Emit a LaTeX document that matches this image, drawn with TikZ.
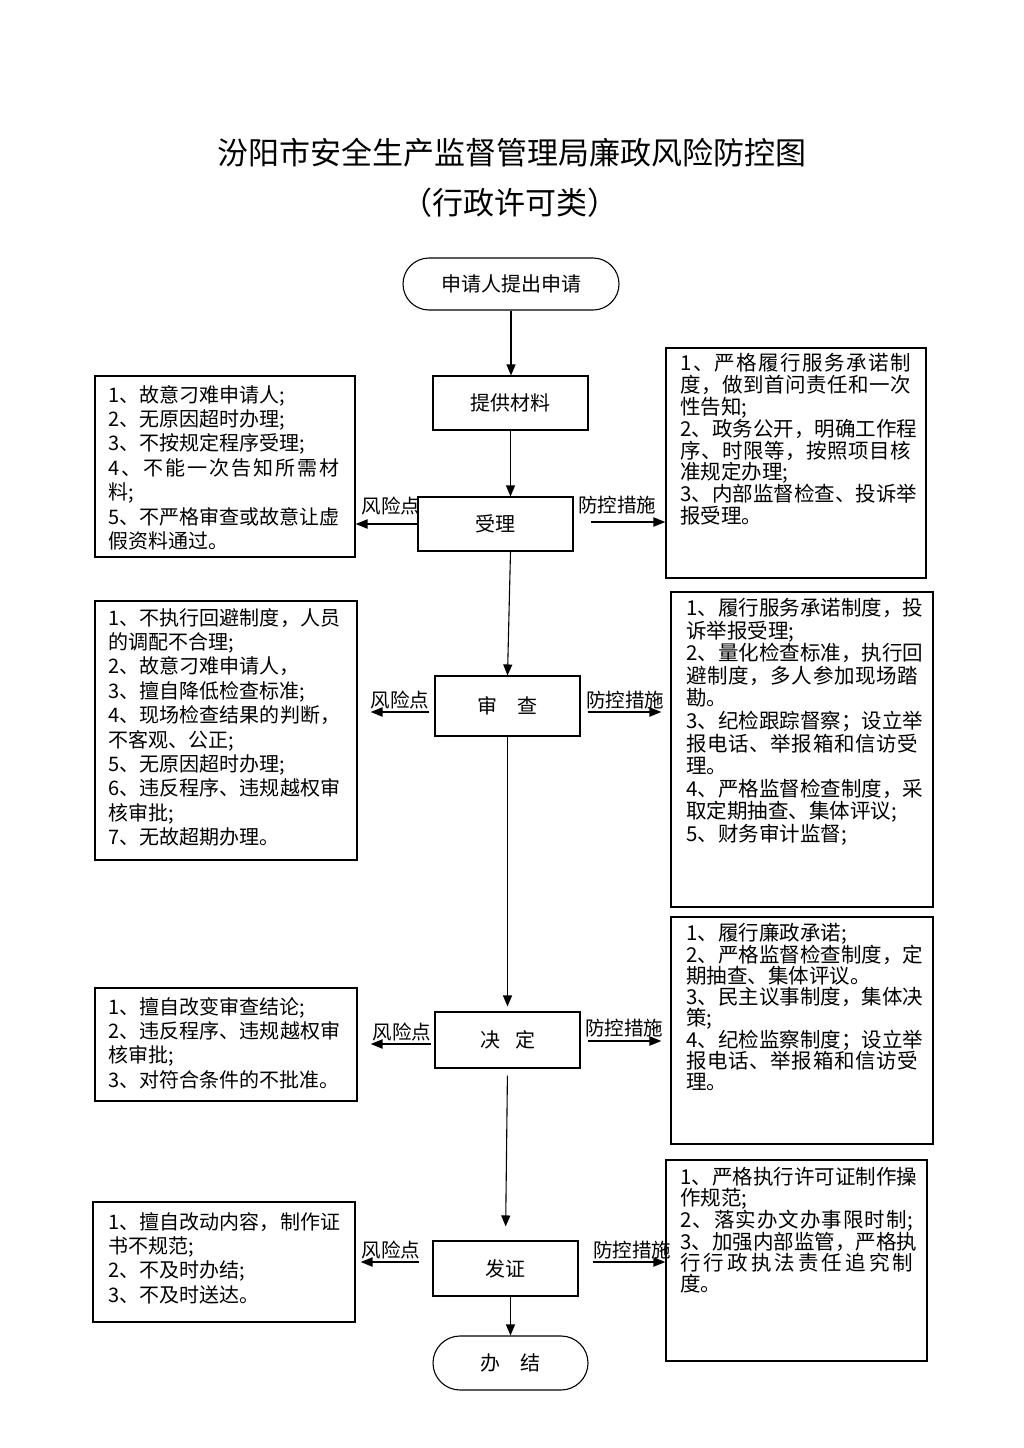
\documentclass[tikz,border=0pt]{standalone}
\usepackage{fontspec}
\setmainfont{Noto Sans CJK SC}
\usetikzlibrary{arrows.meta}
\def\spreadit#1#2{#1\ifx\relax#2\else\hfil\expandafter\spreadit\expandafter#2\fi}
\newcommand\jl[2]{\makebox[#1][s]{\spreadit#2\relax}}
\tikzset{
  box/.style={draw, line width=1.1pt, inner sep=0pt},
  stage/.style={box, font=\fontsize{20}{24}\selectfont},
  term/.style={stage, rounded corners=26pt},
  txt/.style={anchor=north west, inner sep=0pt, align=left},
  ltxt/.style={txt, font=\fontsize{20}{24.4}\selectfont},
  arr/.style={-{Triangle[length=11pt,width=9pt]}, line width=1.1pt},
  sarr/.style={-{Triangle[length=12pt,width=9pt]}, line width=2pt},
  lab/.style={font=\fontsize{19.5}{20}\selectfont, inner sep=0pt},
  ttl/.style={font=\fontsize{31}{33}\selectfont, inner sep=0pt},
}
\begin{document}
\begin{tikzpicture}[x=1pt,y=-1pt]
\useasboundingbox[fill=white] (0,0) rectangle (1024,1448);

% title
\node[ttl] (title1) at (512,153) {汾阳市安全生产监督管理局廉政风险防控图};
\node[ttl] (title2) at (510,203) {（行政许可类）};

% main flow
\node[term, minimum width=216pt, minimum height=52pt] (start) at (511,284) {申请人提出申请};
\node[stage, minimum width=155pt, minimum height=54pt] (p1) at (510.5,403) {提供材料};
\node[stage, minimum width=155pt, minimum height=54pt] (p2) at (495.5,524) {受理};
\node[stage, minimum width=145pt, minimum height=60pt] (p3) at (507.5,706) {审　查};
\node[stage, minimum width=145pt, minimum height=56pt] (p4) at (507.5,1040) {决\hspace{15pt}定};
\node[stage, minimum width=145pt, minimum height=55pt] (p5) at (505.5,1268.5) {发证};
\node[term, rounded corners=27pt, minimum width=155pt, minimum height=54pt] (end) at (510.5,1363) {办　结};

\draw[arr] (start.south) -- (start.south |- p1.north);
\draw[arr] (p1.south) -- (p1.south |- p2.north);
\draw[arr] (p1.south |- p2.south) -- (p3.north);
\draw[arr, shorten >=5pt] (p3.south) -- (p4.north);
\draw[arr, shorten <=7pt, shorten >=14pt] (p4.south) -- (p5.north);
\draw[arr] (p5.south -| end.north) -- (end.north);

% left boxes
\node[box, minimum width=260pt, minimum height=181pt] (L1) at (225,466.5) {};
\node[box, minimum width=262pt, minimum height=259pt] (L2) at (226,730.5) {};
\node[box, minimum width=262pt, minimum height=113pt] (L3) at (226,1044.5) {};
\node[box, minimum width=262pt, minimum height=120pt] (L4) at (224,1262) {};

% right boxes
\node[box, minimum width=260pt, minimum height=230pt] (R1) at (796,463) {};
\node[box, minimum width=262pt, minimum height=315pt] (R2) at (802,749.5) {};
\node[box, minimum width=262pt, minimum height=227pt] (R3) at (802,1030.5) {};
\node[box, minimum width=261pt, minimum height=201pt] (R4) at (796.5,1260.5) {};

% left texts
\node[ltxt] (L1t) at (108,385) {1、故意刁难申请人;\\2、无原因超时办理;\\3、不按规定程序受理;\\\jl{231pt}{4、不能一次告知所需材}\\料;\\\jl{231pt}{5、不严格审查或故意让虚}\\假资料通过。};
\node[ltxt] (L2t) at (108,608) {\jl{232pt}{1、不执行回避制度，人员}\\的调配不合理;\\2、故意刁难申请人，\\3、擅自降低检查标准;\\\jl{232pt}{4、现场检查结果的判断，}\\不客观、公正;\\5、无原因超时办理;\\\jl{232pt}{6、违反程序、违规越权审}\\核审批;\\7、无故超期办理。};
\node[ltxt] (L3t) at (108,997) {1、擅自改变审查结论;\\\jl{232pt}{2、违反程序、违规越权审}\\核审批;\\3、对符合条件的不批准。};
\node[ltxt] (L4t) at (108,1212) {\jl{232pt}{1、擅自改动内容，制作证}\\书不规范;\\2、不及时办结;\\3、不及时送达。};

% right texts
\node[txt, font=\fontsize{20.5}{21.9}\selectfont] (R1t) at (680,353) {\jl{231pt}{1、严格履行服务承诺制}\\\jl{231pt}{度，做到首问责任和一次}\\性告知;\\\jl{231pt}{2、政务公开，明确工作程}\\\jl{231pt}{序、时限等，按照项目核}\\准规定办理;\\\jl{231pt}{3、内部监督检查、投诉举}\\报受理。};
\node[txt, font=\fontsize{20.5}{22.6}\selectfont] (R2t) at (686,598) {\jl{232pt}{1、履行服务承诺制度，投}\\诉举报受理;\\\jl{232pt}{2、量化检查标准，执行回}\\\jl{232pt}{避制度，多人参加现场踏}\\勘。\\\jl{232pt}{3、纪检跟踪督察；设立举}\\\jl{232pt}{报电话、举报箱和信访受}\\理。\\\jl{232pt}{4、严格监督检查制度，采}\\取定期抽查、集体评议;\\5、财务审计监督;};
\node[txt, font=\fontsize{20.5}{20.9}\selectfont] (R3t) at (686,923) {1、履行廉政承诺;\\\jl{232pt}{2、严格监督检查制度，定}\\期抽查、集体评议。\\\jl{232pt}{3、民主议事制度，集体决}\\策;\\\jl{232pt}{4、纪检监察制度；设立举}\\\jl{232pt}{报电话、举报箱和信访受}\\理。};
\node[txt, font=\fontsize{20.5}{21.2}\selectfont] (R4t) at (680,1167) {\jl{233pt}{1、严格执行许可证制作操}\\作规范;\\\jl{233pt}{2、落实办文办事限时制;}\\\jl{233pt}{3、加强内部监管，严格执}\\\jl{233pt}{行行政执法责任追究制}\\度。};

% side arrows and labels
\draw[sarr] (p2.west) -- (p2.west -| L1.east);
\draw[sarr, shorten <=17pt] ([yshift=2pt]p2.east) -- ([yshift=2pt]p2.east -| R1.west);
\node[lab] (f2) at (391,506) {风险点};
\node[lab] (k2) at (617,505) {防控措施};

\draw[sarr, shorten <=5pt, shorten >=13pt] ([yshift=-6pt]p3.west) -- ([yshift=-6pt]p3.west -| L2.east);
\draw[sarr, shorten <=7pt, shorten >=9pt] ([yshift=-6pt]p3.east) -- ([yshift=-6pt]p3.east -| R2.west);
\node[lab] (f3) at (400,700) {风险点};
\node[lab] (k3) at (625,700) {防控措施};

\draw[sarr, shorten <=3pt, shorten >=13pt] ([yshift=-4pt]p4.west) -- ([yshift=-4pt]p4.west -| L3.east);
\draw[sarr, shorten <=7pt, shorten >=9pt] ([yshift=-1pt]p4.east) -- ([yshift=-1pt]p4.east -| R3.west);
\node[lab] (f4) at (402,1032) {风险点};
\node[lab] (k4) at (624,1028) {防控措施};

\draw[sarr, shorten <=13pt, shorten >=5pt] ([yshift=6.5pt]p5.west) -- ([yshift=6.5pt]p5.west -| L4.east);
\draw[sarr, shorten <=14pt] ([yshift=6.5pt]p5.east) -- ([yshift=6.5pt]p5.east -| R4.west);
\node[lab] (f5) at (391,1250) {风险点};
\node[lab] (k5) at (632,1250) {防控措施};
\end{tikzpicture}
\end{document}
